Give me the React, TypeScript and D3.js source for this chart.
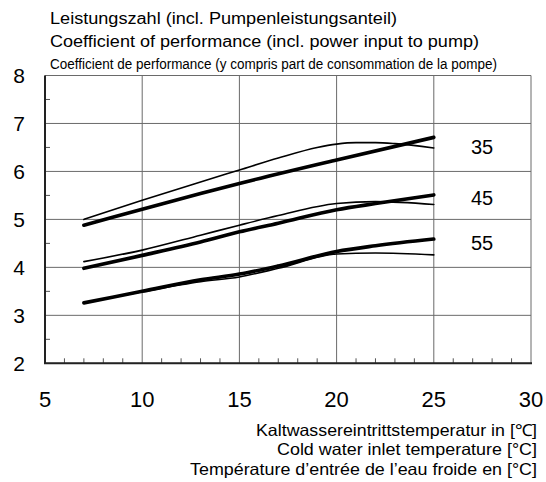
import React from "react";
import * as d3 from "d3";

const xTicks = [5, 10, 15, 20, 25, 30];
const yTicks = [2, 3, 4, 5, 6, 7, 8];
const titleLines = [
  "Leistungszahl (incl. Pumpenleistungsanteil)",
  "Coefficient of performance (incl. power input to pump)",
  "Coefficient de performance (y compris part de consommation de la pompe)",
];
const xTitleLines = [
  "Kaltwassereintrittstemperatur in [℃]",
  "Cold water inlet temperature [°C]",
  "Température d’entrée de l’eau froide en [°C]",
];
const seriesLabels = ["35", "45", "55"];
const labelValues = [6.5, 5.45, 4.5];

const thin35X = [7, 10, 13, 15, 17, 19, 20, 21, 22, 23, 25];
const thin35Y = [5.0, 5.4, 5.78, 6.03, 6.28, 6.5, 6.57, 6.6, 6.6, 6.58, 6.49];
const thick35X = [7, 10, 13, 15, 20, 25];
const thick35Y = [4.88, 5.21, 5.54, 5.75, 6.24, 6.71];

const thin45X = [7, 10, 13, 15, 17, 20, 22, 25];
const thin45Y = [4.12, 4.36, 4.67, 4.88, 5.08, 5.33, 5.37, 5.31];
const thick45X = [7, 10, 13, 15, 17, 20, 22, 25];
const thick45Y = [3.98, 4.25, 4.53, 4.74, 4.92, 5.2, 5.33, 5.51];

const thin55X = [7, 10, 13, 15, 17, 20, 22, 25];
const thin55Y = [3.26, 3.49, 3.7, 3.8, 3.98, 4.28, 4.3, 4.26];
const thick55X = [7, 10, 13, 15, 17, 20, 22, 25];
const thick55Y = [3.26, 3.5, 3.74, 3.86, 4.03, 4.33, 4.45, 4.59];

const FONT = "'Liberation Sans', Arial, Helvetica, sans-serif";

export default function App() {
  const W = 546;
  const H = 482;
  const x = d3.scaleLinear().domain([5, 30]).range([45, 531]);
  const y = d3.scaleLinear().domain([2, 8]).range([363.3, 75.5]);

  const line = d3
    .line<[number, number]>()
    .x((d) => x(d[0]))
    .y((d) => y(d[1]))
    .curve(d3.curveMonotoneX);

  const series = [
    { xs: thin35X, ys: thin35Y, w: 1.6 },
    { xs: thick35X, ys: thick35Y, w: 3.6 },
    { xs: thin45X, ys: thin45Y, w: 1.6 },
    { xs: thick45X, ys: thick45Y, w: 3.6 },
    { xs: thin55X, ys: thin55Y, w: 1.6 },
    { xs: thick55X, ys: thick55Y, w: 3.6 },
  ];

  const minorX = d3.range(5, 31, 1).filter((v) => v % 5 !== 0);
  const minorY = d3.range(2.5, 8, 1);

  return (
    <svg
      width={W}
      height={H}
      style={{ position: "absolute", left: 0, top: 0, background: "#fff" }}
      fontFamily={FONT}
    >
      <rect x={0} y={0} width={W} height={H} fill="#fff" />
      {/* titles */}
      <text x={50} y={24} fontSize={16} textLength={347} lengthAdjust="spacingAndGlyphs">
        {titleLines[0]}
      </text>
      <text x={50} y={46.5} fontSize={16} textLength={429} lengthAdjust="spacingAndGlyphs">
        {titleLines[1]}
      </text>
      <text x={50} y={68.5} fontSize={14} textLength={447} lengthAdjust="spacingAndGlyphs">
        {titleLines[2]}
      </text>

      {/* grid */}
      {xTicks.map((t) => (
        <line key={"gx" + t} x1={x(t)} x2={x(t)} y1={y(8)} y2={y(2)} stroke="#6a6a6a" strokeWidth={1} />
      ))}
      {yTicks.map((t) => (
        <line key={"gy" + t} x1={x(5)} x2={x(30)} y1={y(t)} y2={y(t)} stroke="#6a6a6a" strokeWidth={1} />
      ))}
      {minorX.map((t) => (
        <line key={"mx" + t} x1={x(t)} x2={x(t)} y1={y(2)} y2={y(2) - 5} stroke="#555" strokeWidth={1} />
      ))}
      {minorY.map((t) => (
        <line key={"my" + t} x1={x(5)} x2={x(5) + 5} y1={y(t)} y2={y(t)} stroke="#555" strokeWidth={1} />
      ))}
      {/* axes */}
      <line x1={x(5)} x2={x(5)} y1={y(8)} y2={y(2)} stroke="#222" strokeWidth={2} />
      <line x1={x(5) - 1} x2={x(30) + 1} y1={y(2)} y2={y(2)} stroke="#222" strokeWidth={2} />

      {/* tick labels */}
      {yTicks.map((t) => (
        <text key={"ly" + t} x={25} y={y(t) + 7.5} fontSize={21} textAnchor="end">
          {t}
        </text>
      ))}
      {xTicks.map((t) => (
        <text key={"lx" + t} x={x(t)} y={406.5} fontSize={22} textAnchor="middle">
          {t}
        </text>
      ))}

      {/* curves */}
      {series.map((s, i) => (
        <path
          key={"s" + i}
          d={line(s.xs.map((v, j) => [v, s.ys[j]] as [number, number])) || ""}
          fill="none"
          stroke="#000"
          strokeWidth={s.w}
          strokeLinecap="round"
          strokeLinejoin="round"
        />
      ))}

      {/* series labels */}
      {seriesLabels.map((l, i) => (
        <text key={"sl" + l} x={482} y={y(labelValues[i]) + 7} fontSize={20} textAnchor="middle">
          {l}
        </text>
      ))}

      {/* x axis title */}
      <text x={256} y={435.5} fontSize={16.5} textLength={281} lengthAdjust="spacingAndGlyphs">
        {xTitleLines[0]}
      </text>
      <text x={277} y={454.5} fontSize={16.5} textLength={260} lengthAdjust="spacingAndGlyphs">
        {xTitleLines[1]}
      </text>
      <text x={190} y={474.5} fontSize={16.5} textLength={347} lengthAdjust="spacingAndGlyphs">
        {xTitleLines[2]}
      </text>
    </svg>
  );
}
